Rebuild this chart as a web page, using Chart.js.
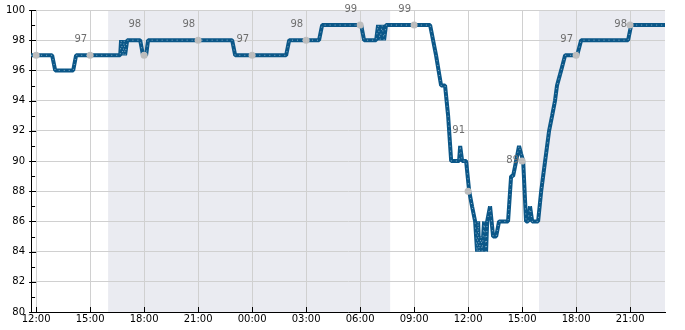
<!DOCTYPE html>
<html>
<head>
<meta charset="utf-8">
<script src="https://cdn.jsdelivr.net/npm/chart.js@4"></script>
<style>
  body { margin: 0; background: #fff; }
  #wrap { width: 685px; height: 330px; }
</style>
</head>
<body>
<div id="wrap"><canvas id="spo2Chart"></canvas></div>
<script>
// hours counted from 12:00 on the first day
const hours = [-0.28, 0.89, 1.06, 2.06, 2.22, 4.67, 4.72, 4.83, 4.89, 4.94, 5.06, 5.78, 5.94, 6.11, 6.22,
  10.89, 11.06, 13.89, 14.06, 15.72, 15.89, 18.06, 18.22, 18.89, 19.0, 19.11, 19.22, 19.33, 19.44,
  21.89, 22.22, 22.5, 22.72, 22.89, 23.06, 23.5, 23.56, 23.67, 23.89, 24.06, 24.22, 24.39, 24.5,
  24.56, 24.61, 24.72, 24.78, 24.89, 25.0, 25.06, 25.22, 25.39, 25.56, 25.72, 26.22, 26.39, 26.5,
  26.67, 26.83, 26.94, 27.06, 27.22, 27.33, 27.44, 27.56, 27.72, 27.89, 28.06, 28.17, 28.39, 28.5,
  28.67, 28.83, 28.94, 29.17, 29.39, 29.89, 30.06, 30.28, 32.89, 33.06, 34.94];
const spo2 = [97, 97, 96, 96, 97, 97, 98, 97, 98, 97, 98, 98, 97, 97, 98,
  98, 97, 97, 98, 98, 99, 99, 98, 98, 99, 98, 99, 98, 99,
  99, 97, 95, 95, 93, 90, 90, 91, 90, 90, 88, 87, 86, 84,
  86, 84, 85, 84, 86, 84, 86, 87, 85, 85, 86, 86, 89, 89,
  90, 91, 90.5, 90, 86, 86, 87, 86, 86, 86, 88, 89, 91, 92,
  93, 94, 95, 96, 97, 97, 97, 98, 98, 99, 99];

// hourly markers and the numbers printed next to them
const markerHours = [0, 3, 6, 9, 12, 15, 18, 21, 24, 27, 30, 33];
const markerValues = [97, 97, 97, 98, 97, 98, 99, 99, 88, 90, 97, 99];
const markerLabels = [null, 97, 98, 98, 97, 98, 99, 99, 91, 89, 97, 98];

// shaded night periods (start, end) in hours
const nightStart = [4.0, 27.94];
const nightEnd = [19.67, 34.94];

const tickHours = [0, 3, 6, 9, 12, 15, 18, 21, 24, 27, 30, 33];
const hourLabel = h => String((12 + h) % 24).padStart(2, '0') + ':00';

const nightBands = {
  id: 'nightBands',
  beforeDraw(chart) {
    const { ctx, chartArea, scales } = chart;
    ctx.save();
    ctx.fillStyle = '#eaebf1';
    for (let i = 0; i < nightStart.length; i++) {
      const x1 = scales.x.getPixelForValue(nightStart[i]);
      const x2 = Math.min(scales.x.getPixelForValue(nightEnd[i]), chartArea.right);
      ctx.fillRect(x1, chartArea.top, x2 - x1, chartArea.bottom - chartArea.top);
    }
    ctx.restore();
  }
};

// black tick marks pointing into the plot
const innerTicks = {
  id: 'innerTicks',
  beforeDatasetsDraw(chart) {
    const { ctx, chartArea, scales } = chart;
    ctx.save();
    ctx.strokeStyle = '#000';
    ctx.lineWidth = 1;
    ctx.beginPath();
    scales.x.ticks.forEach(t => {
      const x = Math.round(scales.x.getPixelForValue(t.value)) + 0.5;
      ctx.moveTo(x, chartArea.bottom);
      ctx.lineTo(x, chartArea.bottom - 5);
    });
    scales.y.ticks.forEach(t => {
      const y = Math.round(scales.y.getPixelForValue(t.value)) + 0.5;
      const major = t.value % 2 === 0;
      ctx.moveTo(chartArea.left - (major ? 2 : 0), y);
      ctx.lineTo(chartArea.left + (major ? 5 : 4), y);
    });
    ctx.stroke();
    ctx.restore();
  }
};

const markerText = {
  id: 'markerText',
  afterDatasetsDraw(chart) {
    const { ctx, scales } = chart;
    ctx.save();
    ctx.font = '10px "DejaVu Sans"';
    ctx.fillStyle = '#6e6e6e';
    ctx.textAlign = 'right';
    ctx.textBaseline = 'middle';
    markerHours.forEach((h, i) => {
      if (markerLabels[i] == null) return;
      const x = scales.x.getPixelForValue(h) - 3;
      const y = scales.y.getPixelForValue(markerLabels[i]) - 15.5;
      ctx.fillText(String(markerLabels[i]), x, y);
    });
    ctx.restore();
  }
};

const points = hours.map((h, i) => ({ x: h, y: spo2[i] }));
const markers = markerHours.map((h, i) => ({ x: h, y: markerValues[i] }));

Chart.defaults.font.family = '"DejaVu Sans"';
Chart.defaults.font.size = 10;
Chart.defaults.color = '#000';

const ctx = document.getElementById('spo2Chart').getContext('2d');
new Chart(ctx, {
  type: 'line',
  data: {
    datasets: [{
      data: markers,
      showLine: false,
      pointRadius: 3.5,
      pointBackgroundColor: '#bdbdbd',
      pointBorderWidth: 0,
      order: 0
    }, {
      data: points,
      borderColor: 'rgba(255,255,255,0.5)',
      borderWidth: 1,
      borderDash: [1, 4],
      borderJoinStyle: 'bevel',
      pointRadius: 0,
      tension: 0,
      order: 1
    }, {
      data: points,
      borderColor: '#0b5788',
      borderWidth: 4,
      borderJoinStyle: 'bevel',
      pointRadius: 0,
      tension: 0,
      order: 2
    }]
  },
  options: {
    responsive: true,
    maintainAspectRatio: false,
    animation: false,
    layout: { padding: { top: 0, right: 20, left: 0, bottom: 4 } },
    plugins: { legend: { display: false }, tooltip: { enabled: false } },
    scales: {
      x: {
        type: 'linear',
        min: -0.28,
        max: 34.94,
        afterBuildTicks: scale => { scale.ticks = tickHours.map(v => ({ value: v })); },
        ticks: { callback: v => hourLabel(v), maxRotation: 0, autoSkip: false, padding: 1 },
        grid: { color: '#d0d0d0', drawTicks: false },
        border: { color: '#000' }
      },
      y: {
        min: 80,
        max: 100,
        ticks: {
          stepSize: 1,
          autoSkip: false,
          padding: 6,
          font: { lineHeight: 0.8 },
          callback: v => (v % 2 === 0 ? v : '')
        },
        grid: {
          color: c => (c.tick.value % 2 === 0 ? '#d0d0d0' : 'rgba(0,0,0,0)'),
          drawTicks: false
        },
        border: { color: '#000' }
      }
    }
  },
  plugins: [nightBands, innerTicks, markerText]
});
</script>
</body>
</html>
